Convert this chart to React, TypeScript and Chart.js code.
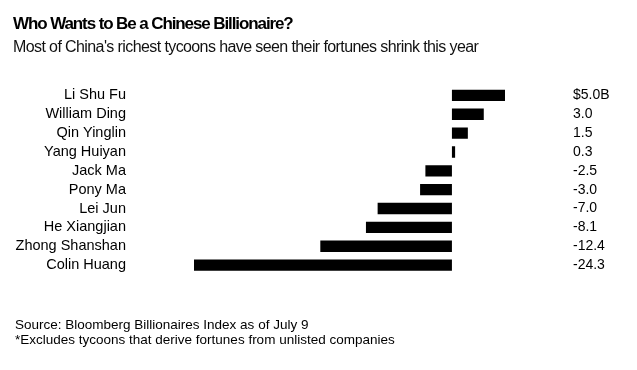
import React, { useEffect, useRef } from "react";
import { Chart, registerables } from "chart.js";

Chart.register(...registerables);

const names = [
  "Li Shu Fu",
  "William Ding",
  "Qin Yinglin",
  "Yang Huiyan",
  "Jack Ma",
  "Pony Ma",
  "Lei Jun",
  "He Xiangjian",
  "Zhong Shanshan",
  "Colin Huang",
];
const changes = [5.0, 3.0, 1.5, 0.3, -2.5, -3.0, -7.0, -8.1, -12.4, -24.3];
const valueLabels = ["$5.0B", "3.0", "1.5", "0.3", "-2.5", "-3.0", "-7.0", "-8.1", "-12.4", "-24.3"];

const title = "Who Wants to Be a Chinese Billionaire?";
const subtitle = "Most of China's richest tycoons have seen their fortunes shrink this year";
const footnotes = [
  "Source: Bloomberg Billionaires Index as of July 9",
  "*Excludes tycoons that derive fortunes from unlisted companies",
];

const FONT = '"Liberation Sans", Arial, Helvetica, sans-serif';

const textPlugin = {
  id: "textBlocks",
  afterDraw(chart: any) {
    const ctx = chart.ctx;
    ctx.save();
    ctx.fillStyle = "#000";
    ctx.textAlign = "left";
    ctx.textBaseline = "alphabetic";
    (ctx as any).letterSpacing = "-1.1px";
    ctx.font = `bold 17px ${FONT}`;
    ctx.fillText(title, 13, 29);
    (ctx as any).letterSpacing = "-0.6px";
    ctx.font = `16px ${FONT}`;
    ctx.fillStyle = "#111";
    ctx.fillText(subtitle, 13, 52);
    (ctx as any).letterSpacing = "0px";
    ctx.font = `13.5px ${FONT}`;
    ctx.fillStyle = "#000";
    ctx.fillText(footnotes[0], 15, 329);
    ctx.fillText(footnotes[1], 15, 344);
    ctx.restore();
  },
};

const valuePlugin = {
  id: "valueLabels",
  afterDatasetsDraw(chart: any) {
    const ctx = chart.ctx;
    const meta = chart.getDatasetMeta(0);
    ctx.save();
    ctx.fillStyle = "#000";
    ctx.font = `14px ${FONT}`;
    ctx.textAlign = "left";
    ctx.textBaseline = "middle";
    meta.data.forEach((bar: any, i: number) => {
      ctx.fillText(valueLabels[i], chart.chartArea.right + 68, bar.y);
    });
    ctx.restore();
  },
};

export default function App() {
  const ref = useRef<HTMLCanvasElement | null>(null);
  useEffect(() => {
    if (!ref.current) return;
    const chart = new Chart(ref.current, {
      type: "bar",
      data: {
        labels: names,
        datasets: [
          {
            data: changes,
            backgroundColor: "#000",
            borderWidth: 0,
            barPercentage: 0.6,
            categoryPercentage: 1,
          },
        ],
      },
      options: {
        indexAxis: "y",
        animation: false,
        responsive: true,
        maintainAspectRatio: false,
        layout: { padding: { top: 86, bottom: 95.5, left: 0, right: 132 } },
        plugins: {
          legend: { display: false },
          tooltip: { enabled: false },
          title: { display: false },
        },
        scales: {
          x: {
            display: false,
            min: -24.3,
            max: 5.0,
          },
          y: {
            grid: { display: false, drawTicks: false },
            border: { display: false },
            ticks: {
              color: "#000",
              padding: 68,
              autoSkip: false,
              font: { family: FONT, size: 14.5 },
            },
            afterFit(scale: any) {
              scale.width = 194;
            },
          },
        },
      },
      plugins: [valuePlugin, textPlugin],
    });
    return () => chart.destroy();
  }, []);
  return (
    <div style={{ position: "fixed", left: 0, top: 0, width: 637, height: 370, background: "#fff" }}>
      <canvas ref={ref} />
    </div>
  );
}
